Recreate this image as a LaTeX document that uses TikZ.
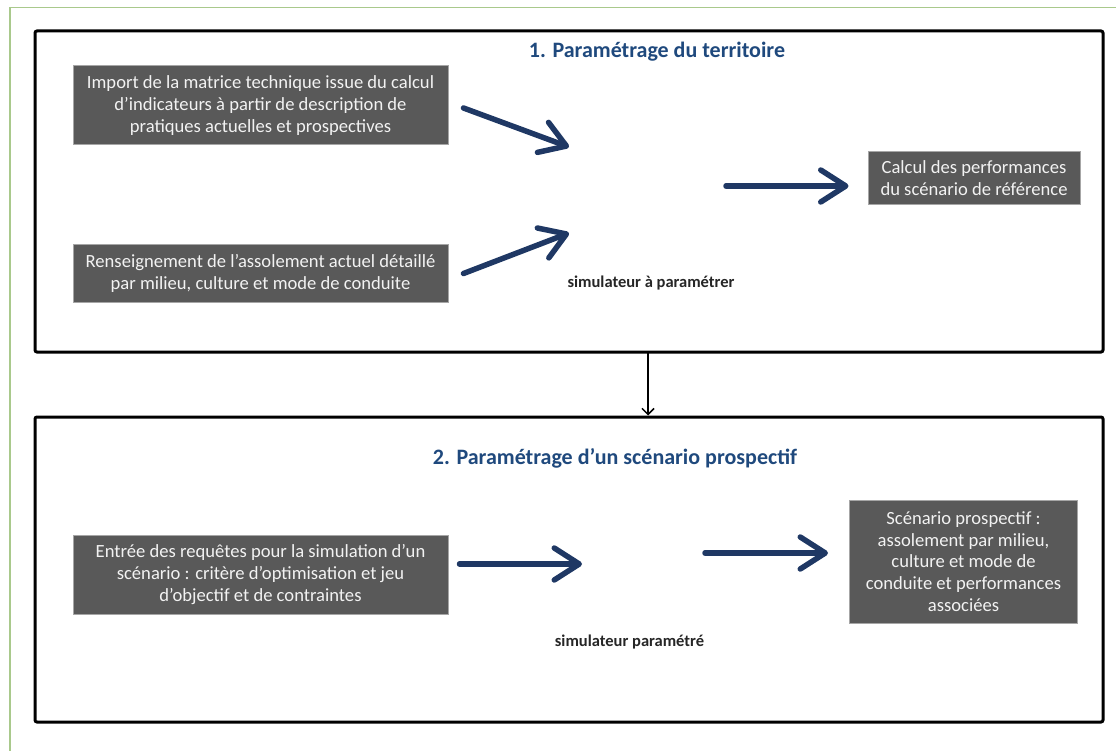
\documentclass[tikz,border=0pt]{standalone}
\usepackage{fontspec}
\setmainfont{Carlito}
\usetikzlibrary{arrows.meta, positioning, calc}
\definecolor{navy}{HTML}{1f3864}
\definecolor{titleblue}{HTML}{1f497d}
\definecolor{boxfill}{HTML}{595959}
\definecolor{boxedge}{HTML}{a6a6a6}
\definecolor{boxtext}{HTML}{f2f2f2}
\definecolor{pagegreen}{HTML}{a9c98c}
\tikzset{
  greybox/.style  = {draw=boxedge, line width=1pt, fill=boxfill, text=boxtext,
                     font=\fontsize{18.6}{21.8}\selectfont, align=center, inner sep=2pt},
  stepframe/.style = {draw, line width=3pt, rounded corners=2pt},
  steptitle/.style = {text=titleblue, font=\fontsize{22}{26}\bfseries},
  simlbl/.style   = {font=\fontsize{16.5}{20}\bfseries, text=black!85},
  flow/.style     = {-{Straight Barb[length=25pt, width=32pt, round]}, line width=5.5pt,
                     draw=navy, line cap=round},
  link/.style     = {-{Straight Barb[length=6pt, width=12pt]}, line width=1.5pt},
}
\begin{document}
\begin{tikzpicture}[x=1pt, y=-1pt]
    \useasboundingbox (0,0) rectangle (1116,751);
    \draw[pagegreen, line width=1.5pt] (10,751) -- (10,7.5) -- (1116,7.5);

    % Step 1 : territory
    \node[stepframe, minimum width=1068, minimum height=321] (terr) at (569,191.5) {};
    \node[steptitle] (t1) at (657,52) {1. Paramétrage du territoire};
    \node[greybox, minimum width=375, minimum height=79] (matr) at (260.5,105.5)
        {Import de la matrice technique issue du calcul\\d’indicateurs à partir de description de\\pratiques actuelles et prospectives};
    \node[greybox, minimum width=375, minimum height=57] (assol) at (260.5,273.5)
        {Renseignement de l’assolement actuel détaillé\\par milieu, culture et mode de conduite};
    \node[greybox, minimum width=212, minimum height=53] (perf) at (974,178.5)
        {Calcul des performances\\du scénario de référence};
    \node[simlbl] (sim1) at (651,283) {simulateur à paramétrer};
    \coordinate (in1a) at (569,147);
    \coordinate (in1b) at (569,233);
    \coordinate (out1) at (726,186);

    % Step 2 : prospective scenario
    \node[stepframe, minimum width=1068, minimum height=305] (scen) at (569,569.5) {};
    \node[steptitle] (t2) at (615,458) {2. Paramétrage d’un scénario prospectif};
    \node[greybox, minimum width=375, minimum height=79] (req) at (260.5,574.5)
        {Entrée des requêtes pour la simulation d’un\\scénario : critère d’optimisation et jeu\\d'objectif et de contraintes};
    \node[greybox, minimum width=228, minimum height=123] (res) at (963.5,561.5)
        {Scénario prospectif :\\assolement par milieu,\\culture et mode de\\conduite et performances\\associées};
    \node[simlbl] (sim2) at (629.5,642) {simulateur paramétré};
    \coordinate (in2) at (582,564);
    \coordinate (out2) at (705,553);

    \draw[flow] ($(matr.east)+(15,2.5)$) -- (in1a);
    \draw[flow] ($(assol.east)+(15,0)$) -- (in1b);
    \draw[flow] (out1) -- ($(out1 -| perf.west)+(-19,0)$);
    \draw[flow] ($(req.east)+(11,-10.5)$) -- (in2);
    \draw[flow] (out2) -- ($(out2 -| res.west)+(-21,0)$);

    \coordinate (down) at (648,352);
    \draw[link] (down) -- (down |- scen.north);
\end{tikzpicture}
\end{document}
